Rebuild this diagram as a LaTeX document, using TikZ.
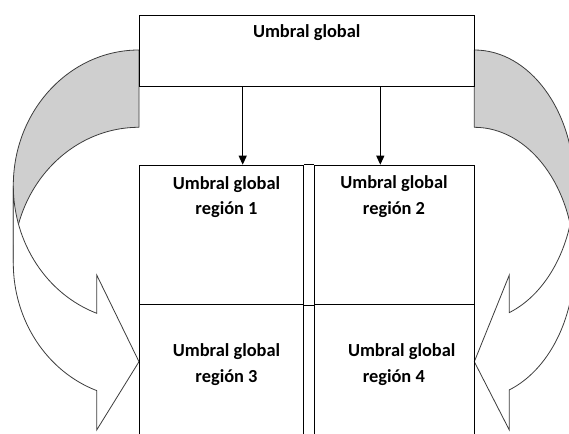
\documentclass[tikz,border=0pt]{standalone}
\usepackage{fontspec}
\setmainfont{Carlito}
\usetikzlibrary{arrows.meta}
\definecolor{shade}{RGB}{207,207,207}
\definecolor{outl}{RGB}{60,60,60}
\tikzset{
  box/.style={draw=black, line width=1.1pt, inner sep=0pt, anchor=north west},
  txt/.style={font=\fontsize{18.4}{25.7}\selectfont\bfseries, inner sep=0pt, align=center, anchor=base},
  backband/.style={fill=shade, draw=outl, line width=0.8pt, line join=round},
  frontband/.style={fill=white, draw=outl, line width=0.8pt, line join=miter},
  link/.style={draw=black, line width=1.1pt, -{Triangle[length=9pt,width=8pt]}},
  ea/.style={x radius=125.7, y radius=135.6},
  eb/.style={x radius=100, y radius=135.6}
}
\begin{document}
\begin{tikzpicture}[x=1pt,y=1pt]
\useasboundingbox (0,0) rectangle (569,433);
% left curved arrow
\path[backband] (139,383) arc[start angle=90,end angle=180,ea] -- (13.3,170.1)
  arc[start angle=180,end angle=90,ea] -- cycle;
\path[frontband] (13.3,247.4) arc[start angle=180,end angle=250.34,ea] -- (96.7,158) -- (139,71.3)
  -- (96.7,3) -- (96.7,42.4) arc[start angle=250.34,end angle=180,ea] -- cycle;
% right curved arrow
\path[backband] (474.3,383) arc[start angle=90,end angle=0,eb] -- (574.3,170.1)
  arc[start angle=0,end angle=90,eb] -- cycle;
\path[frontband] (574.3,247.4) arc[start angle=0,end angle=-69.51,eb] -- (509.3,120.4) -- (509.3,158) -- (474.3,71.3)
  -- (509.3,3) -- (509.3,43.1) arc[start angle=-69.51,end angle=0,eb] -- cycle;
% top box
\node[box, minimum width=335.3pt, minimum height=71.3pt] (top) at (139,418.3) {};
\node[txt] (toptxt) at (306.7,395.7) {Umbral global};
% cells
\node[box, minimum width=164.3pt, minimum height=139.3pt] (r1) at (139,268.3) {};
\node[box, minimum width=160pt, minimum height=139.3pt] (r2) at (314.3,268.3) {};
\node[box, minimum width=164.3pt, minimum height=140pt] (r3) at (139,129) {};
\node[box, minimum width=160pt, minimum height=140pt] (r4) at (314.3,129) {};
\draw[line width=1.1pt] (r1.north east) -- (r2.north west);
\draw[line width=1.1pt] (r1.south east) -- (r2.south west);
% texts (base anchor = baseline of the last line)
\node[txt] (t1) at (226.5,218) {Umbral global\\región 1};
\node[txt] (t2) at (394,218.5) {Umbral global\\región 2};
\node[txt] (t3) at (226.5,50.3) {Umbral global\\región 3};
\node[txt] (t4) at (393.8,50.3) {\hspace*{15.8pt}Umbral global\\región 4};
% links
\coordinate (c1) at (242.7,0);
\coordinate (c2) at (380.3,0);
\draw[link] (top.south -| c1) -- (r1.north -| c1);
\draw[link] (top.south -| c2) -- (r2.north -| c2);
\end{tikzpicture}
\end{document}
